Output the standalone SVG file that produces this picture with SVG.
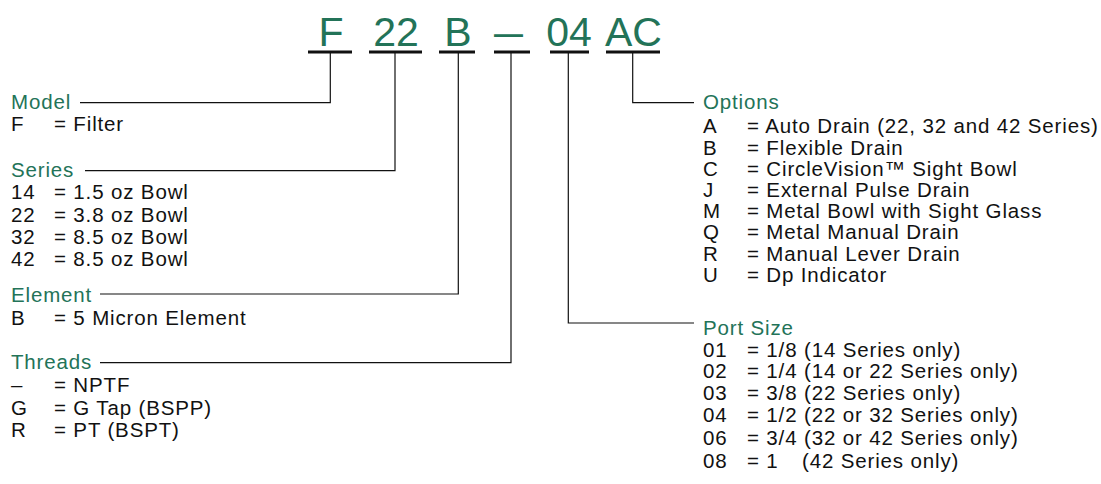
<svg xmlns="http://www.w3.org/2000/svg" width="1101" height="484" viewBox="0 0 1101 484">
<style>
.code{font-family:"Liberation Sans",Arial,sans-serif;font-size:41px;fill:#237358;text-anchor:middle}
.hd{font-family:"Liberation Sans",Arial,sans-serif;font-size:20.5px;letter-spacing:0.85px;fill:#237358}
.tx{font-family:"Liberation Sans",Arial,sans-serif;font-size:20.5px;letter-spacing:0.85px;fill:#111}
.ul{stroke:#111;stroke-width:3;fill:none}
.cn{stroke:#111;stroke-width:1.2;fill:none}
</style>
<rect width="1101" height="484" fill="#fff"/>
<g id="code">
<g id="code-F"><text class="code" x="331" y="46">F</text><line class="ul" x1="308" y1="52" x2="352" y2="52"/></g>
<g id="code-22"><text class="code" x="396" y="46">22</text><line class="ul" x1="369" y1="52" x2="422" y2="52"/></g>
<g id="code-B"><text class="code" x="458" y="46">B</text><line class="ul" x1="439" y1="52" x2="475" y2="52"/></g>
<g id="code-dash"><text class="code" x="508.5" y="46" textLength="29" lengthAdjust="spacingAndGlyphs">–</text><line class="ul" x1="494" y1="52" x2="530" y2="52"/></g>
<g id="code-04"><text class="code" x="569" y="46">04</text><line class="ul" x1="550" y1="52" x2="589" y2="52"/></g>
<g id="code-AC"><text class="code" x="633.5" y="46">AC</text><line class="ul" x1="606" y1="52" x2="660" y2="52"/></g>
</g>
<g id="connectors">
<polyline class="cn" points="330.3,53 330.3,102.7 80,102.7"/>
<polyline class="cn" points="395,53 395,170.7 85,170.7"/>
<polyline class="cn" points="458.3,53 458.3,294 100,294"/>
<polyline class="cn" points="511,53 511,362.7 100,362.7"/>
<polyline class="cn" points="568.3,53 568.3,323 694,323"/>
<polyline class="cn" points="632.7,53 632.7,102.7 694,102.7"/>
</g>
<g id="model">
<text class="hd" x="11" y="108.5">Model</text>
<text class="tx" y="131"><tspan x="11">F</tspan><tspan x="54">= Filter</tspan></text>
</g>
<g id="series">
<text class="hd" x="11" y="177">Series</text>
<text class="tx" y="199.3"><tspan x="11">14</tspan><tspan x="54">= 1.5 oz Bowl</tspan></text>
<text class="tx" y="221.7"><tspan x="11">22</tspan><tspan x="54">= 3.8 oz Bowl</tspan></text>
<text class="tx" y="244"><tspan x="11">32</tspan><tspan x="54">= 8.5 oz Bowl</tspan></text>
<text class="tx" y="265.5"><tspan x="11">42</tspan><tspan x="54">= 8.5 oz Bowl</tspan></text>
</g>
<g id="element">
<text class="hd" x="11" y="302">Element</text>
<text class="tx" y="325"><tspan x="11">B</tspan><tspan x="54">= 5 Micron Element</tspan></text>
</g>
<g id="threads">
<text class="hd" x="11" y="369">Threads</text>
<text class="tx" y="392"><tspan x="11">–</tspan><tspan x="54">= NPTF</tspan></text>
<text class="tx" y="415"><tspan x="11">G</tspan><tspan x="54">= G Tap (BSPP)</tspan></text>
<text class="tx" y="437"><tspan x="11">R</tspan><tspan x="54">= PT (BSPT)</tspan></text>
</g>
<g id="options">
<text class="hd" x="703" y="108.7">Options</text>
<text class="tx" y="133.3"><tspan x="703">A</tspan><tspan x="747">= Auto Drain (22, 32 and 42 Series)</tspan></text>
<text class="tx" y="154.5"><tspan x="703">B</tspan><tspan x="747">= Flexible Drain</tspan></text>
<text class="tx" y="175.7"><tspan x="703">C</tspan><tspan x="747">= CircleVision™ Sight Bowl</tspan></text>
<text class="tx" y="196.9"><tspan x="703">J</tspan><tspan x="747">= External Pulse Drain</tspan></text>
<text class="tx" y="218.1"><tspan x="703">M</tspan><tspan x="747">= Metal Bowl with Sight Glass</tspan></text>
<text class="tx" y="239.3"><tspan x="703">Q</tspan><tspan x="747">= Metal Manual Drain</tspan></text>
<text class="tx" y="260.5"><tspan x="703">R</tspan><tspan x="747">= Manual Lever Drain</tspan></text>
<text class="tx" y="281.7"><tspan x="703">U</tspan><tspan x="747">= Dp Indicator</tspan></text>
</g>
<g id="port-size">
<text class="hd" x="703" y="334.5">Port Size</text>
<text class="tx" y="356.7"><tspan x="703">01</tspan><tspan x="747">= 1/8 (14 Series only)</tspan></text>
<text class="tx" y="378.3"><tspan x="703">02</tspan><tspan x="747">= 1/4 (14 or 22 Series only)</tspan></text>
<text class="tx" y="400"><tspan x="703">03</tspan><tspan x="747">= 3/8 (22 Series only)</tspan></text>
<text class="tx" y="421.7"><tspan x="703">04</tspan><tspan x="747">= 1/2 (22 or 32 Series only)</tspan></text>
<text class="tx" y="445"><tspan x="703">06</tspan><tspan x="747">= 3/4 (32 or 42 Series only)</tspan></text>
<text class="tx" y="468.3"><tspan x="703">08</tspan><tspan x="747">= 1</tspan><tspan x="802">(42 Series only)</tspan></text>
</g>
</svg>
